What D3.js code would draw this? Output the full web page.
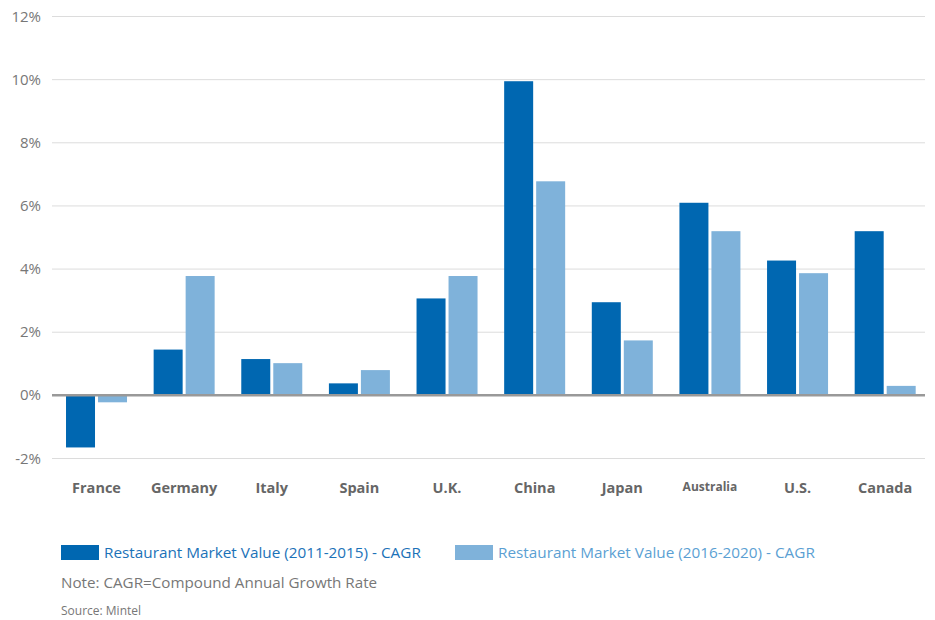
<!DOCTYPE html>
<html>
<head>
<meta charset="utf-8">
<script src="https://cdn.jsdelivr.net/npm/d3@7"></script>
<style>
  body { margin: 0; background: #fff; }
  svg text { font-family: "Open Sans", "DejaVu Sans", sans-serif; }
</style>
</head>
<body>
<div id="chart"></div>
<script>
const categories = ['France', 'Germany', 'Italy', 'Spain', 'U.K.', 'China', 'Japan', 'Australia', 'U.S.', 'Canada'];
const cagr2011 = [-1.65, 1.45, 1.15, 0.38, 3.07, 9.95, 2.95, 6.1, 4.27, 5.2];
const cagr2016 = [-0.22, 3.78, 1.02, 0.8, 3.78, 6.78, 1.74, 5.2, 3.87, 0.3];
const yTicks = [-2, 0, 2, 4, 6, 8, 10, 12];
const seriesNames = ['Restaurant Market Value (2011-2015) - CAGR', 'Restaurant Market Value (2016-2020) - CAGR'];

const width = 935, height = 620;
const margin = { left: 52, right: 925, top: 16.5, bottom: 458.5 };
const barW = 29, gap = 3;
const colors = ['#0067b1', '#7fb2da'];
const textColors = ['#1b72b8', '#5b9fd3'];

const svg = d3.select('#chart').append('svg')
  .attr('width', width)
  .attr('height', height);

// bands sit a touch right of the gridlines in the original
const x = d3.scaleBand()
  .domain(categories)
  .range([52.7, 929])
  .padding(0);

const y = d3.scaleLinear()
  .domain([-2, 12])
  .range([margin.bottom, margin.top]);

// gridlines
svg.append('g')
  .selectAll('line')
  .data(yTicks.filter(d => d !== 0))
  .enter().append('line')
  .attr('x1', margin.left)
  .attr('x2', margin.right)
  .attr('y1', d => y(d))
  .attr('y2', d => y(d))
  .attr('stroke', '#dcdcdc')
  .attr('stroke-width', 1);

// y labels
svg.append('g')
  .selectAll('text')
  .data(yTicks)
  .enter().append('text')
  .attr('x', 41)
  .attr('y', d => y(d) + 5)
  .attr('text-anchor', 'end')
  .attr('font-size', '15px')
  .attr('fill', '#777')
  .text(d => d + '%');

// bars
const series = [cagr2011, cagr2016];
series.forEach((vals, s) => {
  svg.append('g')
    .selectAll('rect')
    .data(categories)
    .enter().append('rect')
    .attr('x', d => x(d) + x.bandwidth() / 2 + (s === 0 ? -barW - gap / 2 : gap / 2))
    .attr('width', barW)
    .attr('y', (d, i) => y(Math.max(0, vals[i])))
    .attr('height', (d, i) => Math.abs(y(vals[i]) - y(0)))
    .attr('fill', colors[s]);
});

// zero line
svg.append('line')
  .attr('x1', margin.left)
  .attr('x2', margin.right)
  .attr('y1', y(0))
  .attr('y2', y(0))
  .attr('stroke', '#999')
  .attr('stroke-width', 2.5);

// x labels
svg.append('g')
  .selectAll('text')
  .data(categories)
  .enter().append('text')
  .attr('x', d => x(d) + x.bandwidth() / 2)
  .attr('y', d => d === 'Australia' ? 491 : 493)
  .attr('text-anchor', 'middle')
  .attr('font-size', d => d === 'Australia' ? '12px' : '14.5px')
  .attr('font-weight', 'bold')
  .attr('fill', '#666')
  .text(d => d);

// legend
const legendX = [61, 455];
seriesNames.forEach((name, i) => {
  svg.append('rect')
    .attr('x', legendX[i])
    .attr('y', 545)
    .attr('width', 38)
    .attr('height', 15)
    .attr('fill', colors[i]);
  svg.append('text')
    .attr('x', legendX[i] + 43)
    .attr('y', 558)
    .attr('font-size', '15.3px')
    .attr('fill', textColors[i])
    .text(name);
});

svg.append('text')
  .attr('x', 61)
  .attr('y', 588)
  .attr('font-size', '15.2px')
  .attr('fill', '#777')
  .text('Note: CAGR=Compound Annual Growth Rate');

svg.append('text')
  .attr('x', 61)
  .attr('y', 615)
  .attr('font-size', '12px')
  .attr('fill', '#777')
  .text('Source: Mintel');
</script>
</body>
</html>
